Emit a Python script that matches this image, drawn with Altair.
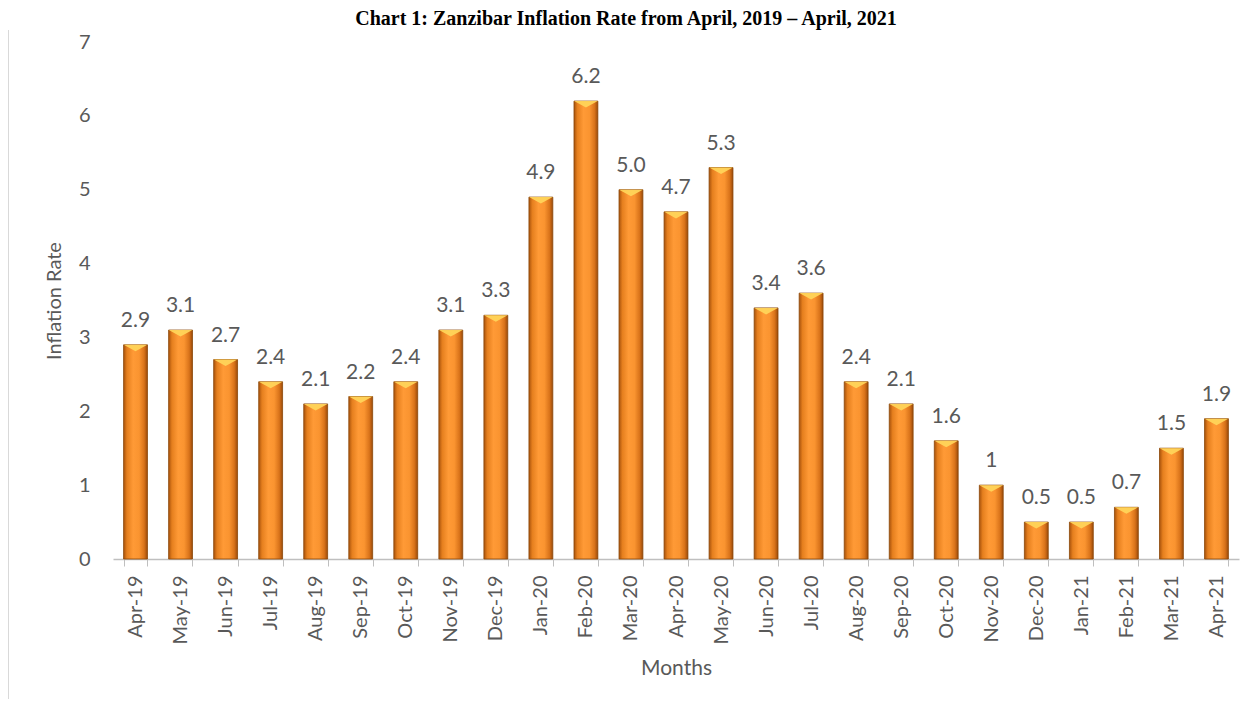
import altair as alt
import pandas as pd

months = ["Apr-19", "May-19", "Jun-19", "Jul-19", "Aug-19", "Sep-19", "Oct-19", "Nov-19",
          "Dec-19", "Jan-20", "Feb-20", "Mar-20", "Apr-20", "May-20", "Jun-20", "Jul-20",
          "Aug-20", "Sep-20", "Oct-20", "Nov-20", "Dec-20", "Jan-21", "Feb-21", "Mar-21", "Apr-21"]
rates = [2.9, 3.1, 2.7, 2.4, 2.1, 2.2, 2.4, 3.1, 3.3, 4.9, 6.2, 5.0, 4.7, 5.3, 3.4, 3.6,
         2.4, 2.1, 1.6, 1.0, 0.5, 0.5, 0.7, 1.5, 1.9]
rate_labels = ["2.9", "3.1", "2.7", "2.4", "2.1", "2.2", "2.4", "3.1", "3.3", "4.9", "6.2", "5.0",
               "4.7", "5.3", "3.4", "3.6", "2.4", "2.1", "1.6", "1", "0.5", "0.5", "0.7", "1.5", "1.9"]
y_ticks = [0, 1, 2, 3, 4, 5, 6, 7]
title_text = "Chart 1: Zanzibar Inflation Rate from April, 2019 \u2013 April, 2021"

df = pd.DataFrame({"Month": months, "Rate": rates, "Label": rate_labels})

FONT = "Lato"
GREY = "#595959"

x_enc = alt.X("Month:N", sort=months, title="Months",
              scale=alt.Scale(paddingInner=0.47, paddingOuter=0.235),
              axis=alt.Axis(labelAngle=270, labelAlign="right", labelBaseline="middle",
                            labelPadding=9, tickSize=7, tickBand="extent",
                            domainColor="#BFBFBF", tickColor="#BFBFBF", domainWidth=1.5,
                            labelColor=GREY, labelFont=FONT, labelFontSize=20,
                            titleColor=GREY, titleFont=FONT, titleFontSize=21,
                            titleFontWeight="normal", titlePadding=14, grid=False))
y_enc = alt.Y("Rate:Q", title="Inflation Rate",
              scale=alt.Scale(domain=[0, 7]),
              axis=alt.Axis(values=y_ticks, format="d", domain=False, ticks=False, grid=False,
                            labelPadding=23, labelColor=GREY, labelFont=FONT, labelFontSize=20,
                            titleColor=GREY, titleFont=FONT, titleFontSize=20,
                            titleFontWeight="normal", titlePadding=14))

grad = alt.Gradient(
    gradient="linear", x1=0, x2=1, y1=0, y2=0,
    stops=[alt.GradientStop(color="#A8520C", offset=0),
           alt.GradientStop(color="#E57F1E", offset=0.14),
           alt.GradientStop(color="#FF9A36", offset=0.4),
           alt.GradientStop(color="#FA9430", offset=0.65),
           alt.GradientStop(color="#D9731A", offset=0.86),
           alt.GradientStop(color="#9A4A0A", offset=1)])

base = alt.Chart(df)

bars = base.mark_bar(fill=grad, stroke="#8A4608", strokeWidth=0.8).encode(x=x_enc, y=y_enc)

bevel = base.mark_point(shape="M-1,0 L1,0 L0,0.55 Z", size=560, filled=True,
                        fill="#FFD45A", opacity=0.95, strokeWidth=0).encode(
    x=alt.X("Month:N", sort=months), y=alt.Y("Rate:Q"))

labels = base.mark_text(dy=-18, baseline="alphabetic", font=FONT, fontSize=21,
                        color=GREY).encode(
    x=alt.X("Month:N", sort=months), y=alt.Y("Rate:Q"), text="Label:N")

frame_left = alt.Chart(pd.DataFrame({"k": [0]})).mark_rule(color="#D9D9D9", strokeWidth=2).encode(
    x=alt.value(-105), y=alt.value(-12), y2=alt.value(700))

title = alt.Chart(pd.DataFrame({"t": [title_text]})).mark_text(
    font="Liberation Serif", fontSize=20, fontWeight="bold", color="#000000",
    baseline="alphabetic", align="center").encode(
    x=alt.value(513), y=alt.value(-17), text="t:N")

chart = alt.layer(frame_left, bars, bevel, labels, title).properties(
    width=1126, height=517,
    background="white",
    view=alt.ViewBackground(stroke="transparent", strokeWidth=0),
    autosize=alt.AutoSizeParams(type="none"),
    padding={"left": 105, "top": 34, "right": 8, "bottom": 140},
).configure_view(strokeWidth=0, stroke="transparent")

chart.save("out.html", embed_options={"renderer": "svg", "actions": False})
